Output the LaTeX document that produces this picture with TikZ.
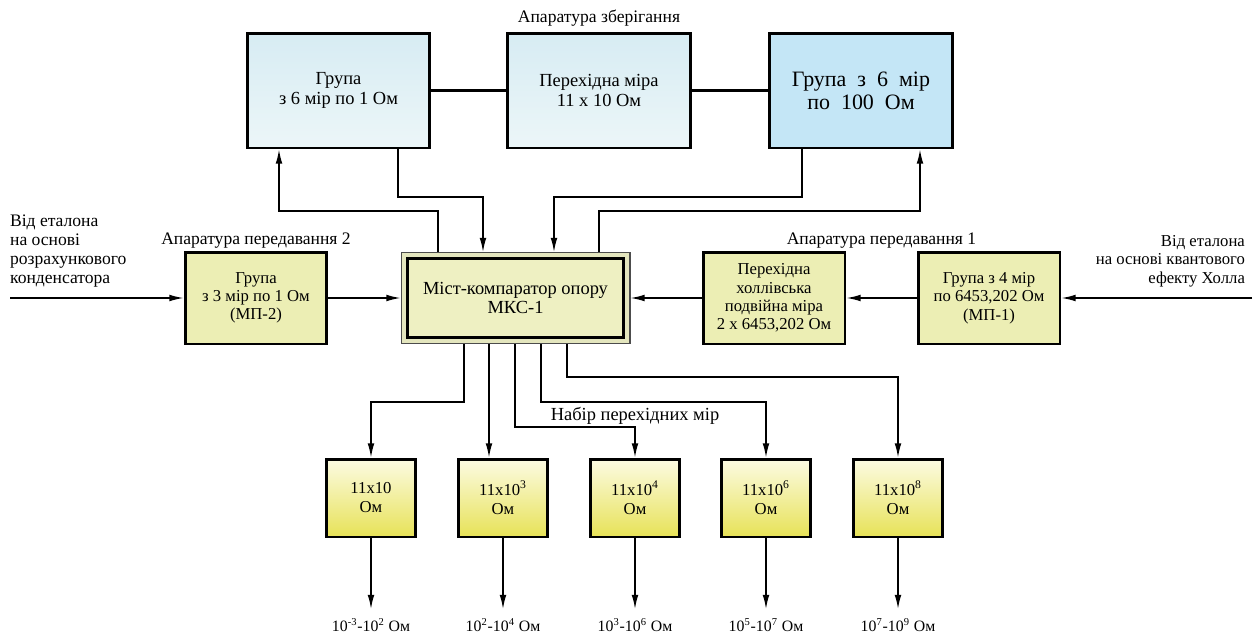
\documentclass[tikz,border=0pt]{standalone}
\usepackage{fontspec}
\setmainfont{Liberation Serif}
\usetikzlibrary{arrows.meta}

\definecolor{storlight}{HTML}{D7ECF3}
\definecolor{storpale}{HTML}{ECF6F8}
\definecolor{storblue}{HTML}{C4E6F6}
\definecolor{transyel}{HTML}{ECEEB4}
\definecolor{mksyel}{HTML}{EEF0C2}
\definecolor{frameyel}{HTML}{E4E6BE}
\definecolor{setpale}{HTML}{FCFBE3}
\definecolor{setyel}{HTML}{E7E257}

\begin{document}
\begin{tikzpicture}[x=0.02cm,y=-0.02cm,
  box/.style={draw=black,line width=1.7pt,align=center,inner sep=0pt},
  storbox/.style={box,minimum width=3.66cm,minimum height=2.3cm,
    top color=storlight,bottom color=storpale,
    font=\fontsize{10.5}{11.5}\selectfont},
  transbox/.style={box,minimum width=2.84cm,minimum height=1.84cm,
    fill=transyel,font=\fontsize{9.5}{10.4}\selectfont},
  setbox/.style={box,minimum width=1.78cm,minimum height=1.56cm,
    top color=setpale,bottom color=setyel,
    font=\fontsize{9.5}{10.8}\selectfont},
  lbl/.style={inner sep=1pt,font=\fontsize{10}{11}\selectfont},
  rangelbl/.style={inner sep=1pt,font=\fontsize{9}{10}\selectfont},
  conn/.style={line width=0.8pt},
  arr/.style={conn,-{Latex[length=8pt,width=3.8pt]}}
]
\useasboundingbox (0,0) rectangle (1254,633);

% Апаратура зберігання
\node[lbl] (storlbl) at (599,18) {Апаратура зберігання};
\node[storbox] (grpA) at (338.5,90.5) {Група\\з 6 мір по 1 Ом};
\node[storbox] (perA) at (599,90.5) {Перехідна міра\\11 x 10 Ом};
\node[storbox,top color=storblue,bottom color=storblue,
  font=\fontsize{12.5}{13.2}\selectfont] (grpC) at (861,90.5)
  {Група~~з~~6~~мір\\по~~100~~Ом};

\draw[line width=1.7pt] (grpA.east) -- (perA.west);
\draw[line width=1.7pt] (perA.east) -- (grpC.west);

% Міст-компаратор
\node[draw=black!70,line width=0.6pt,fill=frameyel,
  minimum width=4.58cm,minimum height=1.82cm] (mksframe) at (515.5,298) {};
\node[box,fill=mksyel,minimum width=4.32cm,minimum height=1.58cm,
  font=\fontsize{10.5}{10.5}\selectfont] (mks) at (515.5,298)
  {Міст-компаратор опору\\МКС-1};

% зв'язки з апаратурою зберігання
\coordinate (ua) at (279,211);
\coordinate (ub) at (438,211);
\draw[arr] (mksframe.north -| ub) -- (ub) -- (ua) -- (grpA.south -| ua);
\coordinate (da) at (398,197);
\coordinate (db) at (483,197);
\draw[arr] (grpA.south -| da) -- (da) -- (db) -- (mksframe.north -| db);
\coordinate (dc) at (802,197);
\coordinate (dd) at (554,197);
\draw[arr] (grpC.south -| dc) -- (dc) -- (dd) -- (mksframe.north -| dd);
\coordinate (uc) at (599,211);
\coordinate (ud) at (920,211);
\draw[arr] (mksframe.north -| uc) -- (uc) -- (ud) -- (grpC.south -| ud);

% Апаратура передавання 2
\node[lbl] (trlbl2) at (256,241) {Апаратура передавання 2};
\node[transbox] (mp2) at (256,298) {Група\\з 3 мір по 1 Ом\\(МП-2)};
\node[lbl,anchor=west,align=left,font=\fontsize{10}{10.8}\selectfont]
  (srcL) at (8,251)
  {Від еталона\\на основі\\розрахункового\\конденсатора};
\coordinate (inL) at (10,298);
\draw[arr] (inL) -- (mp2.west);
\draw[arr] (mp2.east) -- (mksframe.west);

% Апаратура передавання 1
\node[lbl] (trlbl1) at (881.5,241) {Апаратура передавання 1};
\node[transbox] (perH) at (774,298)
  {Перехідна\\холлівська\\подвійна міра\\2 x 6453,202 Ом};
\node[transbox] (mp1) at (989,298) {Група з 4 мір\\по 6453,202 Ом\\(МП-1)};
\node[lbl,anchor=east,align=right,font=\fontsize{9.5}{10.5}\selectfont]
  (srcR) at (1247,261)
  {Від еталона\\на основі квантового\\ефекту Холла};
\coordinate (inR) at (1252,298);
\draw[arr] (inR) -- (mp1.east);
\draw[arr] (mp1.west) -- (perH.east);
\draw[arr] (perH.west) -- (mksframe.east);

% Набір перехідних мір
\node[lbl,font=\fontsize{10.5}{11}\selectfont] (setlbl) at (635,416)
  {Набір перехідних мір};
\node[setbox] (m1) at (371,498) {11x10\\Ом};
\node[setbox] (m2) at (503,498) {11x10\textsuperscript{3}\\Ом};
\node[setbox] (m3) at (635,498) {11x10\textsuperscript{4}\\Ом};
\node[setbox] (m4) at (766,498) {11x10\textsuperscript{6}\\Ом};
\node[setbox] (m5) at (898,498) {11x10\textsuperscript{8}\\Ом};

\coordinate (b1) at (464,402);
\coordinate (b2) at (489,430);
\coordinate (b3) at (515,427);
\coordinate (b4) at (541,402);
\coordinate (b5) at (567,377);
\draw[arr] (mksframe.south -| b1) -- (b1) -| (m1.north);
\draw[arr] (mksframe.south -| b2) -- (m2.north -| b2);
\draw[arr] (mksframe.south -| b3) -- (b3) -| (m3.north);
\draw[arr] (mksframe.south -| b4) -- (b4) -| (m4.north);
\draw[arr] (mksframe.south -| b5) -- (b5) -| (m5.north);

% діапазони
\node[rangelbl] (r1) at (371,625) {10\textsuperscript{-3}-10\textsuperscript{2} Ом};
\node[rangelbl] (r2) at (503,625) {10\textsuperscript{2}-10\textsuperscript{4} Ом};
\node[rangelbl] (r3) at (635,625) {10\textsuperscript{3}-10\textsuperscript{6} Ом};
\node[rangelbl] (r4) at (766,625) {10\textsuperscript{5}-10\textsuperscript{7} Ом};
\node[rangelbl] (r5) at (898,625) {10\textsuperscript{7}-10\textsuperscript{9} Ом};

\draw[arr,shorten >=4pt] (m1.south) -- (r1.north);
\draw[arr,shorten >=4pt] (m2.south) -- (r2.north);
\draw[arr,shorten >=4pt] (m3.south) -- (r3.north);
\draw[arr,shorten >=4pt] (m4.south) -- (r4.north);
\draw[arr,shorten >=4pt] (m5.south) -- (r5.north);

\end{tikzpicture}
\end{document}
